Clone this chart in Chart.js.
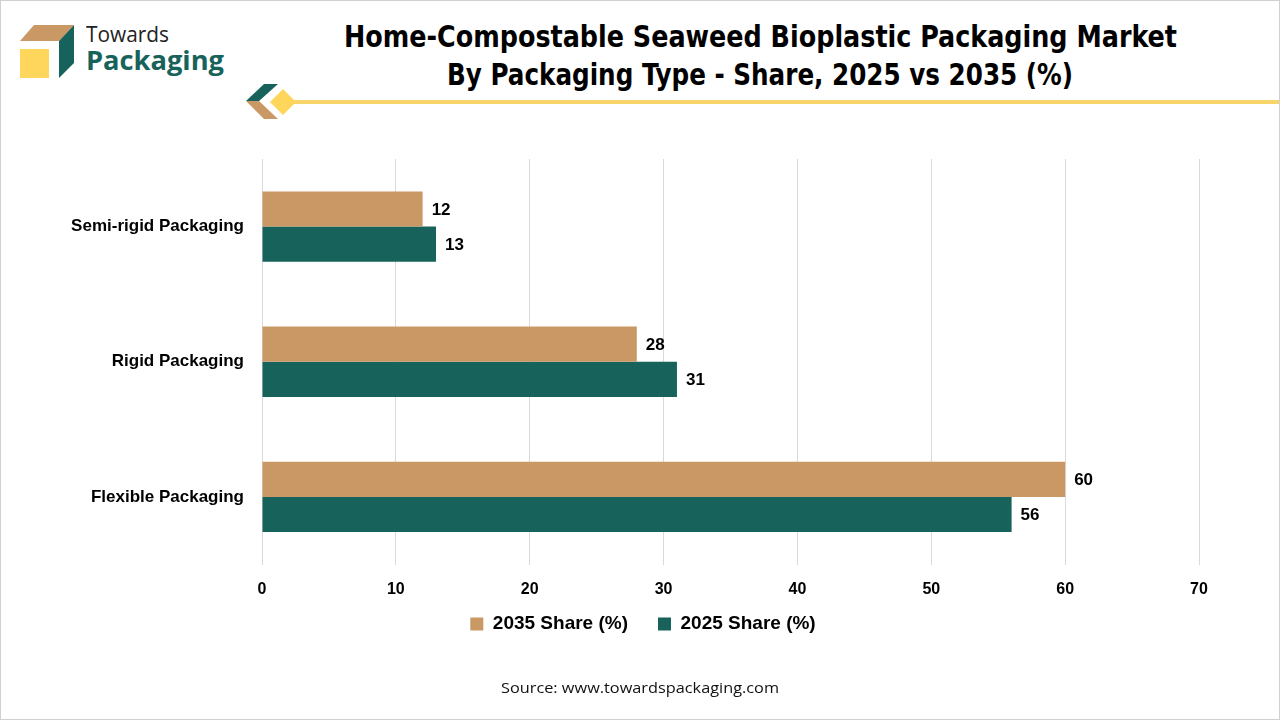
<!DOCTYPE html>
<html>
<head>
<meta charset="utf-8">
<script src="https://cdn.jsdelivr.net/npm/chart.js@4.4.1/dist/chart.umd.min.js"></script>
<style>
    html, body { margin: 0; padding: 0; background: #fff; }
    #page { position: relative; width: 1280px; height: 720px; overflow: hidden; box-sizing: border-box; border: 1px solid #d0d0d0; }
    #chartBox { position: absolute; left: 0; top: 0; width: 1280px; height: 720px; }
    .fit { position: absolute; white-space: nowrap; transform-origin: 0 50%; }
    #title1, #title2 { font-family: "Liberation Sans Narrow", "DejaVu Sans Condensed", sans-serif; font-weight: bold; font-size: 31px; color: #000; }
    #source { font-family: "Open Sans", sans-serif; font-size: 15px; color: #111; }
    #logoTop { font-family: "Open Sans", sans-serif; font-size: 21px; color: #222; }
    #logoBottom { font-family: "Open Sans", sans-serif; font-weight: bold; font-size: 27px; color: #17625A; }
    svg { position: absolute; left: 0; top: 0; }
</style>
</head>
<body>
<div id="page">
    <svg width="1280" height="130">
        <polygon points="19,40 33,24 73,24 58,40" fill="#C99864"/>
        <polygon points="58,40 73,24 73,62 58,77" fill="#17625A"/>
        <rect x="19" y="48" width="29" height="29" fill="#FFD65C"/>
        <rect x="290" y="99" width="990" height="4" fill="#F7D56A"/>
        <polygon points="245,100 263,83 277,83 258,100" fill="#17625A"/>
        <polygon points="245,100 258,100 277,118 263,118" fill="#C99864"/>
        <polygon points="282,88 295,101 282,114 269,101" fill="#FFD65C"/>
    </svg>
    <div id="logoTop" class="fit" data-x="85" data-y="33" data-w="83">Towards</div>
    <div id="logoBottom" class="fit" data-x="85" data-y="58" data-w="138">Packaging</div>
    <div id="title1" class="fit" data-x="343" data-y="35" data-w="833">Home-Compostable Seaweed Bioplastic Packaging Market</div>
    <div id="title2" class="fit" data-x="446" data-y="73" data-w="626">By Packaging Type - Share, 2025 vs 2035 (%)</div>
    <div id="chartBox"><canvas id="chart1"></canvas></div>
    <div id="source" class="fit" data-x="500" data-y="686" data-w="278">Source: www.towardspackaging.com</div>
</div>
<script>
// chart data
var categories = ['Semi-rigid Packaging', 'Rigid Packaging', 'Flexible Packaging'];
var seriesNames = ['2035 Share (%)', '2025 Share (%)'];
var share2035 = [12, 28, 60];
var share2025 = [13, 31, 56];
var xTicks = [0, 10, 20, 30, 40, 50, 60, 70];

var LEGEND_Y = 625;
var LEGEND_DX = 43;

function fitText() {
    document.querySelectorAll('.fit').forEach(function (el) {
        var w = el.getBoundingClientRect().width;
        var h = el.getBoundingClientRect().height;
        var sx = el.dataset.w / w;
        el.style.left = el.dataset.x + 'px';
        el.style.top = (el.dataset.y - h / 2) + 'px';
        el.style.transform = 'scaleX(' + sx + ')';
    });
}

// value labels at the end of each bar
var barLabels = {
    id: 'barLabels',
    afterDatasetsDraw: function (chart) {
        var ctx = chart.ctx;
        ctx.save();
        ctx.font = 'bold 17px "Liberation Sans", Arial, sans-serif';
        ctx.fillStyle = '#000';
        ctx.textAlign = 'left';
        ctx.textBaseline = 'middle';
        chart.data.datasets.forEach(function (ds, i) {
            chart.getDatasetMeta(i).data.forEach(function (bar, j) {
                ctx.fillText(ds.data[j], bar.x + 9, bar.y + 1);
            });
        });
        ctx.restore();
    }
};

// pull the legend up closer to the axis, the legend padding is also the item gap
var legendShift = {
    id: 'legendShift',
    afterLayout: function (chart) {
        var lg = chart.legend;
        var p = lg.options.labels.padding;
        var itemH = 19 * 1.2;
        var newTop = LEGEND_Y - p - itemH / 2;
        var d = lg.top - newTop;
        lg.top -= d;
        lg.bottom -= d;
        lg.left += LEGEND_DX;
        lg.right += LEGEND_DX;
    }
};

function drawChart() {
    const ctx1 = document.getElementById('chart1');
    var data1 = {
        labels: categories,
        datasets: [{
            label: seriesNames[0],
            data: share2035,
            backgroundColor: '#C99864',
            borderWidth: 0
        }, {
            label: seriesNames[1],
            data: share2025,
            backgroundColor: '#17625A',
            borderWidth: 0
        }]
    };

    var myBarChart = new Chart(ctx1, {
        type: 'bar',
        data: data1,
        plugins: [barLabels, legendShift],
        options: {
            indexAxis: 'y',
            responsive: true,
            maintainAspectRatio: false,
            animation: false,
            categoryPercentage: 0.52,
            barPercentage: 1,
            layout: {
                padding: { top: 158, left: 0, right: 82, bottom: 57.5 }
            },
            plugins: {
                tooltip: { enabled: false },
                legend: {
                    position: 'bottom',
                    labels: {
                        font: { family: '"Liberation Sans", Arial, sans-serif', size: 19, weight: 'bold' },
                        color: '#000',
                        boxWidth: 13,
                        boxHeight: 13,
                        padding: 30
                    }
                }
            },
            scales: {
                x: {
                    min: 0,
                    max: 70,
                    afterBuildTicks: function (scale) {
                        scale.ticks = xTicks.map(function (v) { return { value: v }; });
                    },
                    afterFit: function (scale) { scale.height = 40; },
                    grid: { color: '#d9d9d9', drawTicks: false },
                    border: { display: false },
                    ticks: {
                        padding: 15,
                        color: '#000',
                        font: { family: '"Liberation Sans", Arial, sans-serif', size: 16, weight: 'bold' }
                    }
                },
                y: {
                    afterFit: function (scale) { scale.width = 261; },
                    grid: { display: false, drawTicks: false },
                    border: { display: false },
                    ticks: {
                        padding: 18,
                        color: '#000',
                        font: { family: '"Liberation Sans", Arial, sans-serif', size: 17, weight: 'bold' }
                    }
                }
            }
        }
    });
}

fitText();
drawChart();
</script>
</body>
</html>
